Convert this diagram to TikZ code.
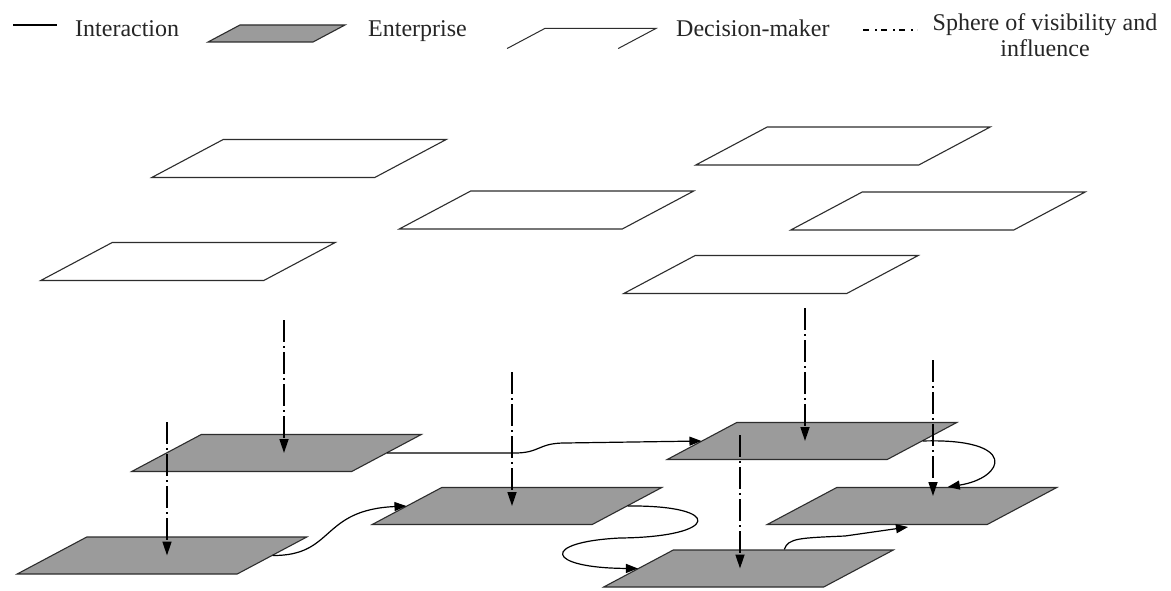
\documentclass[tikz,border=0pt]{standalone}
\usepackage{fontspec}
\setmainfont{Liberation Serif}
\usetikzlibrary{arrows.meta,calc}
\definecolor{entfill}{RGB}{155,155,155}
\definecolor{edgec}{RGB}{45,45,45}
\begin{document}
\begin{tikzpicture}[x=1pt,y=-1pt,
  ent/.style={draw=edgec, fill=entfill, line width=1.1pt, inner sep=0pt,
    minimum width=220pt, minimum height=37pt, xslant=1.88},
  dmk/.style={draw=edgec, fill=white, line width=1.1pt, inner sep=0pt,
    minimum width=223pt, minimum height=38pt, xslant=1.88},
  sphere/.style={draw=black, line width=1.7pt, dash pattern=on 22pt off 4pt on 2pt off 4pt,
    -{Triangle[length=14pt,width=9pt]}},
  inter/.style={draw=black, line width=1.2pt, -{Triangle[length=12pt,width=9pt]}},
  lbl/.style={font=\fontsize{24}{26}\selectfont, inner sep=0pt, text=black!85},
]
\useasboundingbox[fill=white] (0,0) rectangle (1171,591);

% ---------- legend ----------
\coordinate (li1) at (13,25);
\coordinate (li2) at (57,25);
\draw[line width=1.1pt] (li1) -- (li2);
\node[lbl, anchor=base west] (tint) at (75,37) {Interaction};
\node[ent, minimum width=105pt, minimum height=17pt] (lent) at (276.5,33.5) {};
\node[lbl, anchor=base west] (tent) at (368,37) {Enterprise};
\node[dmk, draw=none, minimum width=110pt, minimum height=19pt] (ldm) at (581.5,38.5) {};
\draw[draw=edgec, line width=1pt] (ldm.south west) -- (ldm.north west) -- (ldm.north east) -- (ldm.south east);
\node[lbl, anchor=base west] (tdm) at (676,37) {Decision-maker};
\coordinate (ls1) at (863,30);
\coordinate (ls2) at (917,30);
\draw[line width=1.2pt, dash pattern=on 6pt off 6pt on 2pt off 4pt] (ls1) -- (ls2);
\node[lbl, anchor=north, align=center] (tsph) at (1045,13) {Sphere of visibility and\\influence};

% ---------- decision-makers ----------
\node[dmk] (dm1) at (299,158.5) {};
\node[dmk] (dm2) at (546.5,210) {};
\node[dmk] (dm3) at (188,261.5) {};
\node[dmk] (dm4) at (843,146) {};
\node[dmk] (dm5) at (938,211) {};
\node[dmk] (dm6) at (771,274.5) {};

% ---------- enterprises ----------
\node[ent] (e1) at (276.5,453) {};
\node[ent] (e2) at (162,555.5) {};
\node[ent] (e3) at (517,506) {};
\node[ent] (e4) at (812,441) {};
\node[ent] (e5) at (912,506) {};
\node[ent] (e6) at (748.5,568.5) {};

% ---------- interactions ----------
\draw[inter] (e1.east) -- (515,453) .. controls (540,453) and (538,443) .. (565,443) -- (e4.west);
\draw[inter] (e2.east) .. controls (335,556) and (320,510) .. (e3.west);
\draw[inter] (e3.east) .. controls (725,505) and (720,537) .. (620,538)
  .. controls (540,542) and (545,568) .. (e6.west);
\draw[inter] (e4.east) .. controls (1020,438) and (1005,478) .. (e5.north);
\coordinate (c5end) at (908,527);
\draw[inter] (e6.north) .. controls (788,538) and (800,538) .. (845,536) -- (c5end);

% ---------- spheres of visibility and influence ----------
\coordinate (s1) at (284,320);
\coordinate (s2) at (167,422);
\coordinate (s3) at (512,372);
\coordinate (s4) at (805,308);
\coordinate (s5) at (933,360);
\coordinate (t5) at (933,496);
\coordinate (s6) at (740,435);
\draw[sphere] (s1) -- (s1 |- e1.center);
\draw[sphere] (s2) -- (s2 |- e2.center);
\draw[sphere] (s3) -- (s3 |- e3.center);
\draw[sphere] (s4) -- (s4 |- e4.center);
\draw[sphere] (s5) -- (t5);
\draw[sphere] (s6) -- (s6 |- e6.center);
\end{tikzpicture}
\end{document}
